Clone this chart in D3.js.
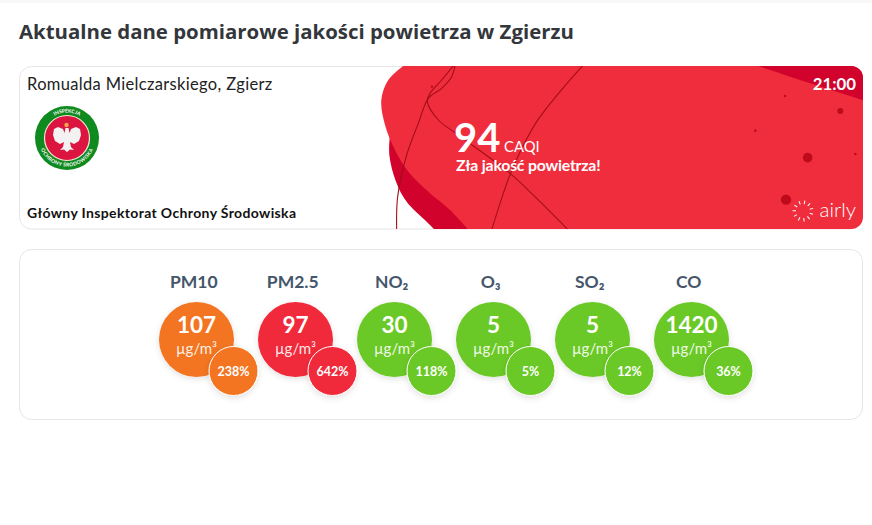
<!DOCTYPE html>
<html lang="pl">
<head>
<meta charset="utf-8">
<script src="https://cdn.jsdelivr.net/npm/d3@7/dist/d3.min.js"></script>
<style>
html,body{margin:0;padding:0;background:#fff;overflow:hidden}
svg{display:block}
text{font-family:Lato,"Noto Sans",sans-serif}
</style>
</head>
<body>
<div id="chart"></div>
<script>
const pollutants = ["PM10","PM2.5","NO₂","O₃","SO₂","CO"];
const concentrations = [107,97,30,5,5,1420];
const percents = ["238%","642%","118%","5%","12%","36%"];
const levelColors = ["#f37521","#f12b3b","#6bc926","#6bc926","#6bc926","#6bc926"];
const unitLabel = "µg/m³";
const pageTitle = "Aktualne dane pomiarowe jakości powietrza w Zgierzu";
const stationName = "Romualda Mielczarskiego, Zgierz";
const sourceName = "Główny Inspektorat Ochrony Środowiska";
const caqiValue = 94;
const caqiText = "Zła jakość powietrza!";
const hourLabel = "21:00";

const W = 872, H = 525;
const svg = d3.select("#chart").append("svg").attr("width",W).attr("height",H).attr("viewBox",[0,0,W,H]);
const defs = svg.append("defs");
const sh = defs.append("filter").attr("id","sh").attr("x","-30%").attr("y","-30%").attr("width","160%").attr("height","160%");
sh.append("feDropShadow").attr("dx",0).attr("dy",2).attr("stdDeviation",3).attr("flood-color","#000").attr("flood-opacity",0.12);
defs.append("clipPath").attr("id","cardClip").append("rect").attr("x",20).attr("y",66).attr("width",843).attr("height",163).attr("rx",12);

svg.append("rect").attr("width",W).attr("height",3).attr("fill","#f7f7f7");
svg.append("text").attr("x",19).attr("y",39).attr("fill","#33363b").attr("font-size",20.4).attr("font-weight",700)
  .style("font-family","'Open Sans'").text(pageTitle);

// top card
svg.append("rect").attr("x",19.5).attr("y",66.5).attr("width",843).attr("height",162.5).attr("rx",12).attr("fill","#fff").attr("stroke","#e6e6e6");
const art = svg.append("g").attr("clip-path","url(#cardClip)");
// map picture-zoom coordinates of the artwork into page pixels
const ax = d3.scaleLinear().domain([0,1500]).range([370,870]);
const ay = d3.scaleLinear().domain([0,525]).range([60,235]);
const artLine = d3.line().x(d=>ax(d[0])).y(d=>ay(d[1])).curve(d3.curveCatmullRom.alpha(0.5));
const dark = "#d1022c", bright = "#f02d3c", lineCol = "#a30e1a";
const darkEdge = [[60,225],[58,285],[78,365],[110,425],[170,485],[205,520]];
art.append("path").attr("d",artLine(darkEdge)+`L${ax(700)},${ay(520)}L${ax(700)},${ay(225)}Z`).attr("fill",dark);
const brightOutline = [[110,10],[55,60],[34,120],[45,195],[75,270],[115,335],[175,395],[240,450],[300,515]];
art.append("path").attr("d",artLine(brightOutline)+`L${ax(1510)},${ay(515)}L${ax(1510)},${ay(10)}Z`).attr("fill",bright);
const cornerOutline = [[1165,18],[1290,60],[1400,95],[1485,122]];
art.append("path").attr("d",artLine(cornerOutline)+`L${ax(1490)},${ay(10)}L${ax(1165)},${ay(10)}Z`).attr("fill",dark);
const threads = [
  [[80,510],[83,410],[110,285],[145,190],[175,115],[215,85],[245,50],[255,18]],
  [[252,15],[215,60],[180,100],[172,125],[205,180],[265,225],[420,340],[500,415],[595,510]],
  [[365,510],[400,400],[430,320],[500,185],[570,95],[640,15]]
];
art.selectAll("path.thread").data(threads).join("path").attr("class","thread")
  .attr("d",artLine).attr("fill","none").attr("stroke",lineCol).attr("stroke-width",1.1);
const spots = [[186,80,1.2],[1245,108,1.3],[1411,153,3],[1156,212,1.3],[1313,293,4.8],[1456,282,1.3],[1248,419,5.2]];
art.selectAll("circle.spot").data(spots).join("circle").attr("class","spot")
  .attr("cx",d=>ax(d[0])).attr("cy",d=>ay(d[1])).attr("r",d=>d[2]).attr("fill","#bf0a1c");

svg.append("text").attr("x",27).attr("y",90).attr("font-size",16.5).attr("letter-spacing",0.33).attr("fill","#222").text(stationName);
svg.append("text").attr("x",27).attr("y",218).attr("font-size",14).attr("letter-spacing",0.36).attr("font-weight",700).attr("fill","#111").text(sourceName);

// inspectorate badge
const logo = svg.append("g").attr("transform","translate(67,138)");
logo.append("circle").attr("r",32).attr("fill","#0f8a1e");
logo.append("circle").attr("r",22.5).attr("fill","#dc1440").attr("stroke","#f3e7d8").attr("stroke-width",1.2);
defs.append("path").attr("id","arcTop").attr("d","M-25.5,0A25.5,25.5 0 0 1 25.5,0");
defs.append("path").attr("id","arcBot").attr("d","M-28.5,0A28.5,28.5 0 0 0 28.5,0");
logo.append("text").attr("font-size",5).attr("font-weight",700).attr("fill","#fff").attr("text-anchor","middle")
  .append("textPath").attr("href","#arcTop").attr("startOffset","50%").text("INSPEKCJA");
logo.append("text").attr("font-size",5).attr("font-weight",700).attr("fill","#fff").attr("text-anchor","middle").attr("letter-spacing",0.3)
  .append("textPath").attr("href","#arcBot").attr("startOffset","50%").text("OCHRONY ŚRODOWISKA");
logo.append("path").attr("fill","#f3f1f1")
  .attr("d","M-1.5,-10 L1.5,-10 L2.5,-5 L4,-9 L9,-11 L13,-9 L14,-3 L12,3 L7,6 L3,4 L4,9 L7,12 L3,11.5 L0,14 L-3,11.5 L-7,12 L-4,9 L-3,4 L-7,6 L-12,3 L-14,-3 L-13,-9 L-9,-11 L-4,-9 L-2.5,-5 Z");
logo.append("circle").attr("cx",-0.5).attr("cy",-13).attr("r",2.2).attr("fill","#f0a64a");

// index panel
svg.append("text").attr("x",454).attr("y",152).attr("font-size",40).attr("font-weight",700).attr("fill","#fff").text(caqiValue);
svg.append("text").attr("x",504).attr("y",152).attr("font-size",14.8).attr("fill","#fff").text("CAQI");
svg.append("text").attr("x",456).attr("y",171).attr("font-size",15.8).attr("font-weight",700).attr("fill","#fff").attr("letter-spacing",-0.2).text(caqiText);
svg.append("text").attr("x",856).attr("y",90).attr("text-anchor","end").attr("font-size",16.8).attr("font-weight",700).attr("fill","#fff").text(hourLabel);
svg.append("text").attr("x",856).attr("y",217).attr("text-anchor","end").attr("font-size",20.5).attr("font-weight",300).attr("fill","#fff").text("airly");
const spin = svg.append("g").attr("transform","translate(803,211)");
spin.selectAll("line").data(d3.range(11)).join("line")
  .attr("y1",-7).attr("y2",-10.5).attr("transform",d=>`rotate(${d*360/11+10})`)
  .attr("stroke","#fff").attr("stroke-width",1);

// measurement card
svg.append("rect").attr("x",19.5).attr("y",249.5).attr("width",843).attr("height",170).attr("rx",12).attr("fill","#fff").attr("stroke","#e6e6e6");
const x = d3.scalePoint().domain(pollutants).range([196.5,691.5]);
const cy = 339.5, R = 37.5, r = 24.5;
const items = pollutants.map((p,i)=>({p,v:concentrations[i],pct:percents[i],c:levelColors[i]}));
const g = svg.selectAll("g.item").data(items).join("g").attr("class","item").attr("transform",d=>`translate(${x(d.p)},0)`);
g.append("text").attr("x",-2.8).attr("y",288).attr("text-anchor","middle").attr("font-size",17.5).attr("font-weight",700).attr("fill","#45566b").text(d=>d.p);
g.append("circle").attr("cy",cy).attr("r",R).attr("fill",d=>d.c).attr("filter","url(#sh)");
g.append("text").attr("y",333).attr("text-anchor","middle").attr("font-size",22.5).attr("font-weight",700).attr("fill","#fff").text(d=>d.v);
g.append("text").attr("y",354).attr("text-anchor","middle").attr("font-size",15).attr("fill","#fff").attr("fill-opacity",0.9).text(unitLabel);
g.append("circle").attr("cx",37).attr("cy",371).attr("r",r).attr("fill",d=>d.c).attr("stroke","#fff").attr("stroke-width",1).attr("filter","url(#sh)");
g.append("text").attr("x",37).attr("y",375.5).attr("text-anchor","middle").attr("font-size",12.5).attr("font-weight",700).attr("fill","#fff").text(d=>d.pct);
</script>
</body>
</html>
